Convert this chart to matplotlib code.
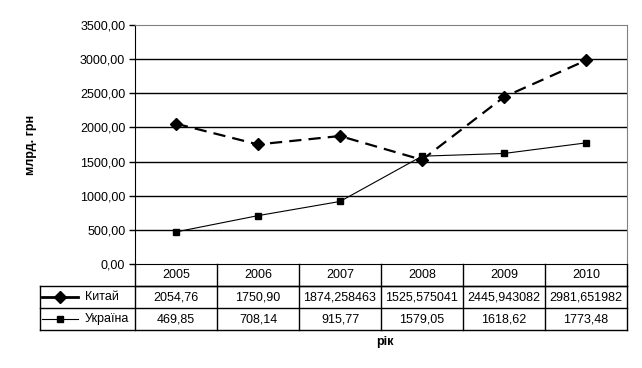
import matplotlib
matplotlib.use('Agg')
import matplotlib.pyplot as plt
from matplotlib.transforms import blended_transform_factory
from matplotlib.lines import Line2D

plt.rcParams['font.family'] = ['Liberation Sans', 'DejaVu Sans']

# ---------------- data ----------------
years = ["2005", "2006", "2007", "2008", "2009", "2010"]
china = [2054.76, 1750.90, 1874.258463, 1525.575041, 2445.943082, 2981.651982]
ukraine = [469.85, 708.14, 915.77, 1579.05, 1618.62, 1773.48]
china_labels = ["2054,76", "1750,90", "1874,258463", "1525,575041", "2445,943082", "2981,651982"]
ukraine_labels = ["469,85", "708,14", "915,77", "1579,05", "1618,62", "1773,48"]
yticks = [0, 500, 1000, 1500, 2000, 2500, 3000, 3500]

W, H = 642, 368
FS = 9
fig = plt.figure(figsize=(W / 100, H / 100), dpi=100)
ax = fig.add_axes([135 / W, (H - 264) / H, 492 / W, 239 / H])

x = list(range(len(years)))
ax.plot(x, china, color='black', lw=1.6, dashes=(5.5, 3.2), marker='D', ms=6.5, clip_on=False, zorder=3)
ax.plot(x, ukraine, color='black', lw=0.8, marker='s', ms=4.5, clip_on=False, zorder=3)

ax.set_xlim(-0.5, len(years) - 0.5)
ax.set_ylim(0, 3500)
ax.set_yticks(yticks)
ax.set_yticklabels([f"{v:.2f}".replace('.', ',') for v in yticks], fontsize=FS)
ax.set_xticks([])
for v in yticks[1:-1]:
    ax.axhline(v, color='black', lw=1, zorder=1)
ax.tick_params(axis='y', length=4, width=1, pad=3)
ax.spines['top'].set_color('#808080')
ax.spines['right'].set_color('#808080')
for s in ['left', 'bottom']:
    ax.spines[s].set_color('black')
ax.set_ylabel("млрд. грн", fontsize=FS, fontweight='bold', labelpad=31)

# ---------------- data table ----------------
tr = blended_transform_factory(ax.transData, ax.transAxes)
rh = 22 / 239
left = (40 - 135) / 82 - 0.5
right = len(years) - 0.5
kw = dict(color='black', lw=1, transform=tr, clip_on=False)

# horizontal lines
ax.add_line(Line2D([-0.5, right], [-rh, -rh], **kw))
ax.add_line(Line2D([left, right], [-rh, -rh], **kw))
ax.add_line(Line2D([left, right], [-2 * rh, -2 * rh], **kw))
ax.add_line(Line2D([left, right], [-3 * rh, -3 * rh], **kw))
# vertical lines
ax.add_line(Line2D([left, left], [-rh, -3 * rh], **kw))
for i in range(len(years) + 1):
    ax.add_line(Line2D([i - 0.5, i - 0.5], [0, -3 * rh], **kw))

for i, yr in enumerate(years):
    ax.text(i, -0.5 * rh, yr, ha='center', va='center', fontsize=FS, transform=tr)
    ax.text(i, -1.5 * rh, china_labels[i], ha='center', va='center', fontsize=FS, transform=tr)
    ax.text(i, -2.5 * rh, ukraine_labels[i], ha='center', va='center', fontsize=FS, transform=tr)

# legend keys in table
k0, k1 = left + 2 / 82, left + 38 / 82
km = (k0 + k1) / 2
ax.add_line(Line2D([k0, k1], [-1.5 * rh] * 2, color='black', lw=2, transform=tr, clip_on=False))
ax.plot([km], [-1.5 * rh], marker='D', ms=6, color='black', transform=tr, clip_on=False)
ax.add_line(Line2D([k0, k1], [-2.5 * rh] * 2, color='black', lw=0.8, transform=tr, clip_on=False))
ax.plot([km], [-2.5 * rh], marker='s', ms=4.5, color='black', transform=tr, clip_on=False)
ax.text(left + 45 / 82, -1.5 * rh, "Китай", ha='left', va='center', fontsize=FS, transform=tr)
ax.text(left + 45 / 82, -2.5 * rh, "Україна", ha='left', va='center', fontsize=FS, transform=tr)

fig.text(385 / W, 1 - 342 / H, "рік", ha='center', va='center', fontsize=FS, fontweight='bold')

fig.savefig("out.png", dpi=100)
